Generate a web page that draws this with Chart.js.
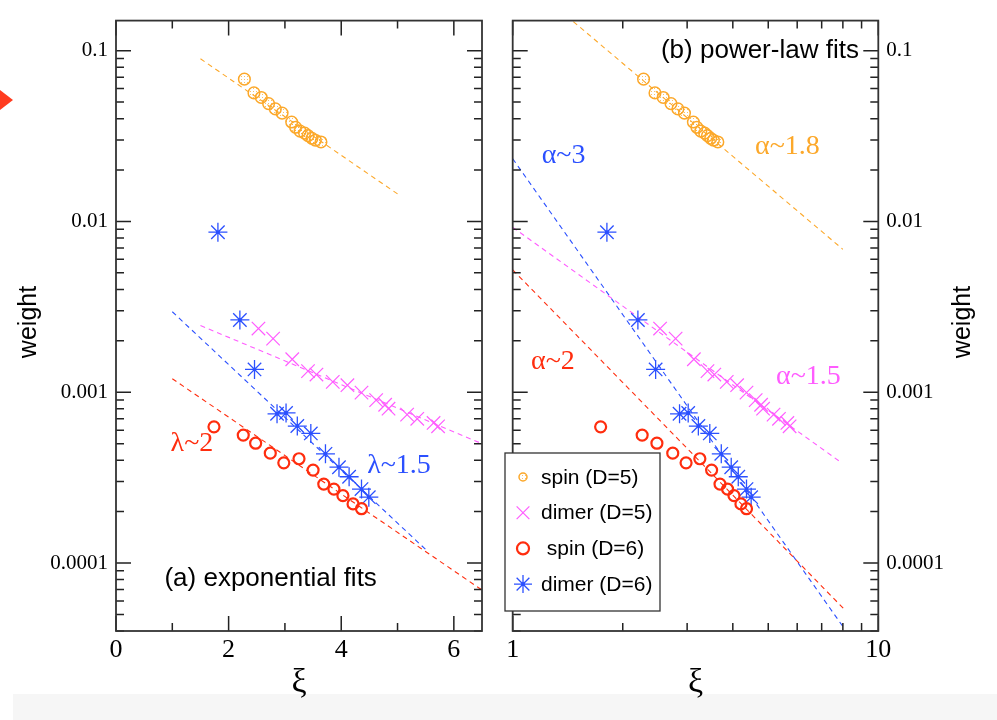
<!DOCTYPE html>
<html>
<head>
<meta charset="utf-8">
<script src="https://cdn.jsdelivr.net/npm/chart.js@4.4.1/dist/chart.umd.min.js"></script>
<style>
  html, body { margin: 0; padding: 0; background: #fff; }
  #wrap { position: relative; width: 997px; height: 720px; overflow: hidden; }
  .band { position: absolute; left: 13px; top: 694px; width: 984px; height: 26px; background: #f6f6f6; }
  .arrow { position: absolute; left: 0; top: 90px; width: 0; height: 0;
           border-top: 10px solid transparent; border-bottom: 10px solid transparent; border-left: 13px solid #ff3b1f; }
  #left { position: absolute; left: 0; top: 0; }
  #right { position: absolute; left: 497px; top: 0; }
</style>
</head>
<body>
<div id="wrap">
  <div class="band"></div>
  <div class="arrow"></div>
  <canvas id="left" width="497" height="720"></canvas>
  <canvas id="right" width="500" height="720"></canvas>
</div>
<script>
// correlation length xi and weights
const spinD5X = [2.28, 2.45, 2.58, 2.71, 2.83, 2.95, 3.12, 3.19, 3.27, 3.35, 3.41, 3.48, 3.54, 3.64];
const spinD5Y = [0.0681, 0.0566, 0.0532, 0.0490, 0.0456, 0.0431, 0.0382, 0.0356, 0.0338, 0.0329, 0.0318, 0.0307, 0.0299, 0.0292];
const dimerD5X = [2.53, 2.79, 3.13, 3.41, 3.56, 3.85, 4.11, 4.36, 4.62, 4.78, 4.84, 5.17, 5.35, 5.64, 5.72];
const dimerD5Y = [0.00236, 0.00206, 0.00156, 0.00133, 0.00127, 0.00115, 0.00110, 0.000995, 0.000899, 0.000845, 0.000801, 0.000740, 0.000699, 0.000661, 0.000632];
const spinD6X = [1.74, 2.26, 2.48, 2.74, 2.98, 3.25, 3.50, 3.69, 3.87, 4.03, 4.21, 4.36];
const spinD6Y = [0.000627, 0.000561, 0.000503, 0.000440, 0.000386, 0.000408, 0.000350, 0.000290, 0.000271, 0.000248, 0.000222, 0.000208];
const dimerD6X = [1.81, 2.20, 2.46, 2.86, 3.02, 3.22, 3.46, 3.72, 3.96, 4.14, 4.36, 4.49];
const dimerD6Y = [0.00865, 0.00265, 0.00136, 0.000748, 0.000757, 0.000634, 0.000574, 0.000436, 0.000364, 0.000320, 0.000271, 0.000243];

// fit lines (end points), panel (a) exponential, panel (b) power law
const expFitX = { spin5: [1.5, 5.0], dimer5: [1.5, 6.5], spin6: [1.0, 6.5], dimer6: [1.0, 5.5] };
const expFitY = { spin5: [0.0896, 0.0145], dimer5: [0.00246, 0.0005], spin6: [0.0012, 0.0000695], dimer6: [0.00296, 0.00012] };
const powFitX = { spin5: [1.465, 8.0], dimer5: [1.0, 7.94], spin6: [1.0, 8.03], dimer6: [1.0, 8.0] };
const powFitY = { spin5: [0.148, 0.00687], dimer5: [0.00924, 0.000386], spin6: [0.00521, 0.0000542], dimer6: [0.0233, 0.0000425] };

const legendLabels = ['spin (D=5)', 'dimer (D=5)', ' spin (D=6)', 'dimer (D=6)'];
const yTickValues = [0.0001, 0.001, 0.01, 0.1];
const yTickLabels = ['0.0001', '0.001', '0.01', '0.1'];
const xLinTickValues = [0, 2, 4, 6];
const xLinTickLabels = ['0', '2', '4', '6'];
const xLogTickValues = [1, 10];
const xLogTickLabels = ['1', '10'];

const ORANGE = '#fca82a', MAGENTA = '#ff5cff', RED = '#ff2d0e', BLUE = '#2b50ff';
const SERIF = '"Liberation Serif", "DejaVu Serif", serif';
const SANS = '"Liberation Sans", Arial, sans-serif';

// dotted fill for the orange circles
const dotCanvas = document.createElement('canvas');
dotCanvas.width = 3; dotCanvas.height = 3;
const dctx = dotCanvas.getContext('2d');
dctx.fillStyle = 'rgba(250,168,42,0.7)';
dctx.fillRect(1, 1, 1, 1);
const dotPattern = dctx.createPattern(dotCanvas, 'repeat');

const pts = (xs, ys) => xs.map((x, i) => ({ x: x, y: ys[i] }));

function labelFor(vals, labels) {
  return function (value) {
    const i = vals.findIndex(t => Math.abs(t - value) <= 1e-6 * Math.abs(t) + 1e-12);
    return i >= 0 ? labels[i] : '';
  };
}

function datasets(fx, fy) {
  const fit = (key, color) => ({
    data: pts(fx[key], fy[key]), showLine: true, pointRadius: 0,
    borderColor: color, borderWidth: 1.1, borderDash: [5, 4], fill: false
  });
  return [
    { data: pts(spinD5X, spinD5Y), pointStyle: 'circle', pointRadius: 5.8, borderColor: ORANGE, backgroundColor: dotPattern, borderWidth: 1.5 },
    { data: pts(dimerD5X, dimerD5Y), pointStyle: 'crossRot', pointRadius: 9.5, borderColor: MAGENTA, borderWidth: 1.2 },
    { data: pts(spinD6X, spinD6Y), pointStyle: 'circle', pointRadius: 5.5, borderColor: RED, backgroundColor: 'rgba(0,0,0,0)', borderWidth: 2.2 },
    { data: pts(dimerD6X, dimerD6Y), pointStyle: 'star', pointRadius: 9.5, borderColor: BLUE, borderWidth: 1.3 },
    { data: pts(dimerD6X, dimerD6Y), pointStyle: 'circle', pointRadius: 1.8, borderColor: BLUE, backgroundColor: BLUE, borderWidth: 0 },
    fit('spin5', ORANGE), fit('dimer5', MAGENTA), fit('spin6', RED), fit('dimer6', BLUE)
  ];
}

// box, inward ticks on all four sides, axis titles, text notes and legend
const framePlugin = {
  id: 'frame',
  afterDraw(chart, args, o) {
    const ctx = chart.ctx, a = chart.chartArea;
    const xs = chart.scales.x, ys = chart.scales.y;
    const kind = (scale, v) => {
      if (scale.type === 'logarithmic') {
        const lg = Math.log10(v);
        if (Math.abs(lg - Math.round(lg)) < 1e-6) return 'major';
        const s = v / Math.pow(10, Math.floor(lg));
        return Math.abs(s - Math.round(s)) < 1e-6 ? 'minor' : null;
      }
      if (Math.abs(v - Math.round(v)) > 1e-6) return null;
      return Math.round(v) % 2 === 0 ? 'major' : 'minor';
    };
    ctx.save();
    ctx.strokeStyle = '#222';
    ctx.lineWidth = 1.5;
    ctx.beginPath();
    xs.ticks.forEach(t => {
      const k = kind(xs, t.value);
      if (!k) return;
      const L = k === 'major' ? 15 : 8;
      const px = xs.getPixelForValue(t.value);
      ctx.moveTo(px, a.bottom); ctx.lineTo(px, a.bottom - L);
      ctx.moveTo(px, a.top); ctx.lineTo(px, a.top + L);
    });
    ys.ticks.forEach(t => {
      const k = kind(ys, t.value);
      if (!k) return;
      const L = k === 'major' ? 15 : 8;
      const py = ys.getPixelForValue(t.value);
      ctx.moveTo(a.left, py); ctx.lineTo(a.left + L, py);
      ctx.moveTo(a.right, py); ctx.lineTo(a.right - L, py);
    });
    ctx.stroke();
    ctx.strokeStyle = '#333';
    ctx.lineWidth = 1.8;
    ctx.strokeRect(a.left, a.top, a.right - a.left, a.bottom - a.top);

    // axis titles
    ctx.fillStyle = '#000';
    ctx.textAlign = 'center';
    ctx.textBaseline = 'middle';
    ctx.font = '34px ' + SERIF;
    ctx.fillText('ξ', (a.left + a.right) / 2, 683);
    ctx.save();
    ctx.translate(o.yTitleX, 322);
    ctx.rotate(-Math.PI / 2);
    ctx.font = '25px ' + SANS;
    ctx.fillText('weight', 0, 0);
    ctx.restore();

    // text notes placed in data coordinates
    ctx.textAlign = 'left';
    o.notes.forEach(n => {
      ctx.fillStyle = n.color;
      ctx.font = n.font;
      ctx.fillText(n.text, xs.getPixelForValue(n.x), ys.getPixelForValue(n.y));
    });

    if (o.legend) {
      const L = o.legend;
      ctx.fillStyle = '#fff';
      ctx.fillRect(L.left, L.top, L.width, L.height);
      ctx.strokeStyle = '#333';
      ctx.lineWidth = 1.3;
      ctx.strokeRect(L.left, L.top, L.width, L.height);
      const ds = chart.data.datasets;
      const sizes = [4, 9, 6, 9];
      [0, 1, 2, 3].forEach((di, i) => {
        const d = ds[di];
        const y = L.firstRow + i * L.rowGap;
        ctx.strokeStyle = d.borderColor;
        ctx.fillStyle = d.backgroundColor || 'rgba(0,0,0,0)';
        ctx.lineWidth = d.borderWidth;
        Chart.helpers.drawPoint(ctx, { pointStyle: d.pointStyle, radius: sizes[i], rotation: 0, borderWidth: d.borderWidth }, L.symX, y);
        if (di === 3) {
          ctx.fillStyle = BLUE;
          ctx.beginPath(); ctx.arc(L.symX, y, 1.8, 0, Math.PI * 2); ctx.fill();
        }
        ctx.fillStyle = '#000';
        ctx.font = '21px ' + SANS;
        ctx.textBaseline = 'middle';
        ctx.fillText(legendLabels[i], L.textX, y + 1);
      });
    }
    ctx.restore();
  }
};

const noGrid = { display: false, drawTicks: false };

function makeChart(id, cfg) {
  return new Chart(document.getElementById(id), {
    type: 'scatter',
    data: { datasets: datasets(cfg.fx, cfg.fy) },
    options: {
      responsive: false,
      animation: false,
      devicePixelRatio: 1,
      layout: { padding: cfg.padding },
      plugins: { legend: { display: false }, tooltip: { enabled: false }, frame: cfg.frame },
      scales: {
        x: {
          type: cfg.xType, min: cfg.xMin, max: cfg.xMax,
          grid: noGrid, border: { display: false },
          ticks: { stepSize: 1, includeBounds: false, autoSkip: false, maxRotation: 0, padding: 4, color: '#000',
                   font: { family: SERIF, size: 26 }, callback: cfg.xLabel },
          afterFit: s => { s.height = 89; }
        },
        y: {
          type: 'logarithmic', position: cfg.yPos, min: 4e-5, max: 0.15,
          grid: noGrid, border: { display: false },
          ticks: { autoSkip: false, padding: 8, color: '#000',
                   font: { family: SERIF, size: 21 }, callback: labelFor(yTickValues, yTickLabels) },
          afterFit: s => { s.width = cfg.yWidth; }
        }
      }
    },
    plugins: [framePlugin]
  });
}

makeChart('left', {
  fx: expFitX, fy: expFitY, xType: 'linear', xMin: 0, xMax: 6.5,
  xLabel: labelFor(xLinTickValues, xLinTickLabels), yPos: 'left', yWidth: 116,
  padding: { left: 0, top: 10, right: 15, bottom: 0 },
  frame: {
    yTitleX: 29,
    notes: [
      { text: 'λ~2', x: 0.97, y: 5.0e-4, color: RED, font: '28px ' + SERIF },
      { text: 'λ~1.5', x: 4.46, y: 3.71e-4, color: BLUE, font: '28px ' + SERIF },
      { text: '(a) exponential fits', x: 0.86, y: 8.05e-5, color: '#000', font: '26px ' + SANS }
    ]
  }
});

makeChart('right', {
  fx: powFitX, fy: powFitY, xType: 'logarithmic', xMin: 1, xMax: 10,
  xLabel: labelFor(xLogTickValues, xLogTickLabels), yPos: 'right', yWidth: 118.7,
  padding: { left: 15.7, top: 10, right: 0, bottom: 0 },
  frame: {
    yTitleX: 466,
    notes: [
      { text: '(b) power-law fits', x: 2.544, y: 0.1, color: '#000', font: '26px ' + SANS },
      { text: 'α~3', x: 1.20, y: 0.0244, color: BLUE, font: '28px ' + SERIF },
      { text: 'α~1.8', x: 4.60, y: 0.0276, color: ORANGE, font: '28px ' + SERIF },
      { text: 'α~2', x: 1.122, y: 0.00151, color: RED, font: '28px ' + SERIF },
      { text: 'α~1.5', x: 5.25, y: 0.00124, color: MAGENTA, font: '28px ' + SERIF }
    ],
    legend: { left: 8, top: 453, width: 155, height: 158, symX: 26, textX: 44, firstRow: 477, rowGap: 35.7 }
  }
});
</script>
</body>
</html>
